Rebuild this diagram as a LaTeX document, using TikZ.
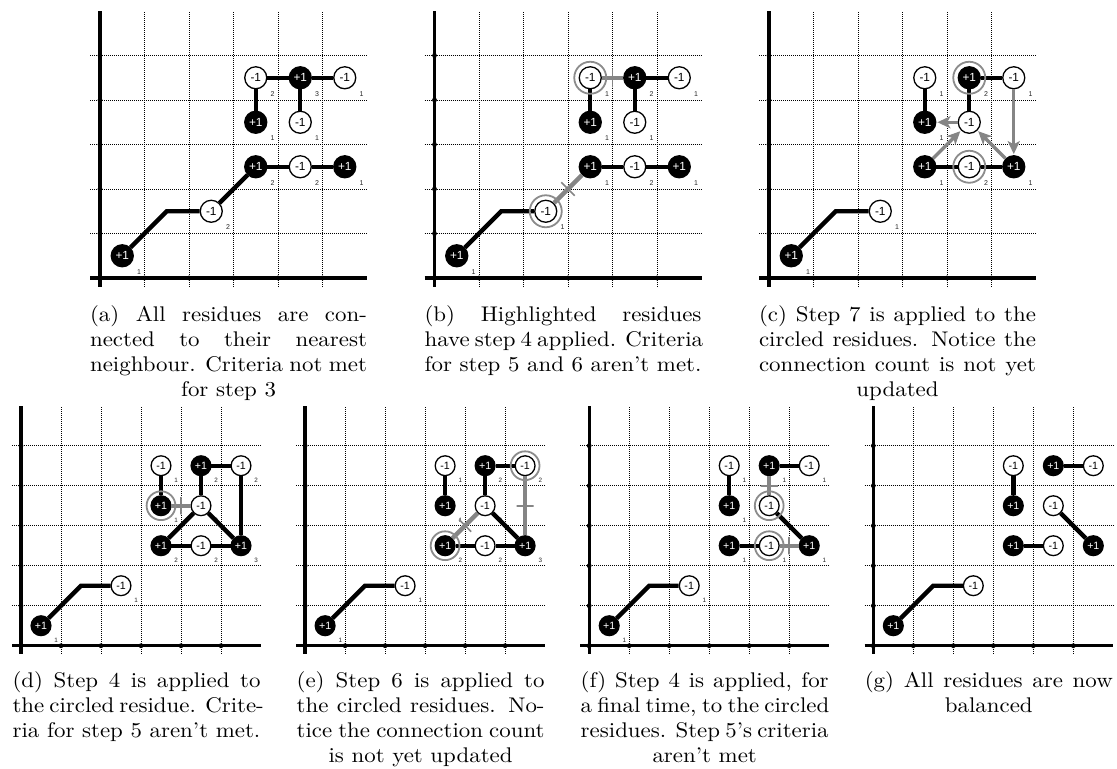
\documentclass[tikz,border=0pt]{standalone}
\usepackage{fontspec}
\usepackage{graphicx}
\newfontfamily\resfont{Liberation Sans}
\usetikzlibrary{arrows.meta}

\tikzset{
  grid line/.style={line width=0.5pt, dash pattern=on 0.5pt off 0.5pt},
  axis line/.style={line width=1.7pt},
  res/.style={circle, draw=black, line width=0.65pt, minimum size=11pt, inner sep=0pt,
              font=\resfont\fontsize{5.9}{6}\selectfont},
  plusres/.style={res, fill=black, text=white},
  minusres/.style={res, fill=white, text=black},
  bond/.style={line width=2.2pt, black},
  cut/.style={line width=2.2pt, black!48},
  cutmark/.style={draw=black!48, line width=0.8pt, minimum width=0pt, minimum height=9.5pt,
                  inner sep=0pt, outer sep=0pt},
  move/.style={line width=1.7pt, black!48, -{Stealth[length=6.5pt,width=6pt,inset=1.6pt]},
               shorten >=0.5pt},
  ring/.style={draw=black!45, line width=0.9pt, circle, minimum size=16pt, inner sep=0pt},
  count/.style={font=\resfont\fontsize{3.5}{4}\selectfont, inner sep=0pt, text=black!85},
  capline/.style={anchor=base, inner sep=0pt, font=\fontsize{10.6}{12.4}\selectfont},
  small panel/.style={x=20pt, y=20pt, every node/.append style={scale=0.9}},
  big panel/.style={x=22.25pt, y=22.25pt},
}

% grid, axes and axis dots of one panel (cell units)
\newcommand\Frame{%
  \foreach \k in {1,...,5} {
    \draw[grid line] (-0.22,\k) -- (6,\k);
    \draw[grid line] (\k,-0.2) -- (\k,6);
  }
  \draw[axis line] (-0.22,0) -- (6,0);
  \draw[axis line] (0,-0.2) -- (0,6);
  \foreach \k in {0,...,5} {
    \fill (0,\k) circle (1.2pt);
    \fill (\k,0) circle (1.2pt);
  }
}
% residue: style, name, position, charge, connection count
\newcommand\Res[5]{%
  \node[#1] (#2) at (#3) {#4};
  \node[count] (#2n) at ([shift={(0.38,-0.36)}]#2.center) {#5};
}
% justified caption line and centred last line
\newcommand\CapJ[4]{\node[capline] (#1) at (#2) {\scalebox{1.08}[1]{\makebox[#3][s]{#4}}};}
\newcommand\CapC[3]{\node[capline] (#1) at (#2) {\scalebox{1.08}[1]{#3}};}

\begin{document}
\begin{tikzpicture}
\fill[white] (0,0) rectangle (558.5pt,-384pt);
\path[use as bounding box] (0,0) rectangle (558.5pt,-384pt);

% ---------------- (a)
\begin{scope}[shift={(50pt,-139pt)}, big panel]
  \Frame
  \Res{plusres}{a1}{0.5,0.5}{+1}{1}
  \coordinate (a1b) at (1.5,1.5);
  \Res{minusres}{a2}{2.5,1.5}{-1}{2}
  \Res{plusres}{a3}{3.5,2.5}{+1}{2}
  \Res{minusres}{a4}{4.5,2.5}{-1}{2}
  \Res{plusres}{a5}{5.5,2.5}{+1}{1}
  \Res{minusres}{a6}{3.5,4.5}{-1}{2}
  \Res{plusres}{a7}{4.5,4.5}{+1}{3}
  \Res{minusres}{a8}{5.5,4.5}{-1}{1}
  \Res{plusres}{a9}{3.5,3.5}{+1}{1}
  \Res{minusres}{a10}{4.5,3.5}{-1}{1}
  \draw[bond] (a1) -- (a1b) -- (a2);
  \draw[bond] (a2) -- (a3);
  \draw[bond] (a3) -- (a4);
  \draw[bond] (a4) -- (a5);
  \draw[bond] (a6) -- (a7);
  \draw[bond] (a7) -- (a8);
  \draw[bond] (a6) -- (a9);
  \draw[bond] (a7) -- (a10);
\end{scope}

% ---------------- (b)
\begin{scope}[shift={(217.25pt,-139pt)}, big panel]
  \Frame
  \Res{plusres}{b1}{0.5,0.5}{+1}{1}
  \coordinate (b1b) at (1.5,1.5);
  \Res{minusres}{b2}{2.5,1.5}{-1}{1}
  \Res{plusres}{b3}{3.5,2.5}{+1}{1}
  \Res{minusres}{b4}{4.5,2.5}{-1}{2}
  \Res{plusres}{b5}{5.5,2.5}{+1}{1}
  \Res{minusres}{b6}{3.5,4.5}{-1}{1}
  \Res{plusres}{b7}{4.5,4.5}{+1}{2}
  \Res{minusres}{b8}{5.5,4.5}{-1}{1}
  \Res{plusres}{b9}{3.5,3.5}{+1}{1}
  \Res{minusres}{b10}{4.5,3.5}{-1}{1}
  \draw[bond] (b1) -- (b1b) -- (b2);
  \draw[bond] (b3) -- (b4);
  \draw[bond] (b4) -- (b5);
  \draw[bond] (b6) -- (b9);
  \draw[bond] (b7) -- (b8);
  \draw[bond] (b7) -- (b10);
  \draw[cut] (b2) -- (b3) node[midway, sloped, cutmark] (b23) {};
  \draw[cut] (b6) -- (b7) node[midway, sloped, cutmark] (b67) {};
  \node[ring] (b2r) at (b2) {};
  \node[ring] (b6r) at (b6) {};
\end{scope}

% ---------------- (c)
\begin{scope}[shift={(384.5pt,-139pt)}, big panel]
  \Frame
  \Res{plusres}{c1}{0.5,0.5}{+1}{1}
  \coordinate (c1b) at (1.5,1.5);
  \Res{minusres}{c2}{2.5,1.5}{-1}{1}
  \Res{minusres}{c3}{3.5,4.5}{-1}{1}
  \Res{plusres}{c4}{4.5,4.5}{+1}{2}
  \Res{minusres}{c5}{5.5,4.5}{-1}{1}
  \Res{plusres}{c6}{3.5,3.5}{+1}{1}
  \Res{minusres}{c7}{4.5,3.5}{-1}{1}
  \Res{plusres}{c8}{3.5,2.5}{+1}{1}
  \Res{minusres}{c9}{4.5,2.5}{-1}{2}
  \Res{plusres}{c10}{5.5,2.5}{+1}{1}
  \draw[bond] (c1) -- (c1b) -- (c2);
  \draw[bond] (c3) -- (c6);
  \draw[bond] (c4) -- (c5);
  \draw[bond] (c4) -- (c7);
  \draw[bond] (c8) -- (c9);
  \draw[bond] (c9) -- (c10);
  \draw[move] (c5) -- (c10);
  \draw[move] (c7) -- (c6);
  \draw[move] (c8) -- (c7);
  \draw[move] (c10) -- (c7);
  \node[ring] (c4r) at (c4) {};
  \node[ring] (c9r) at (c9) {};
\end{scope}

% ---------------- (d)
\begin{scope}[shift={(10.5pt,-322.85pt)}, small panel]
  \Frame
  \Res{plusres}{d1}{0.5,0.5}{+1}{1}
  \coordinate (d1b) at (1.5,1.5);
  \Res{minusres}{d2}{2.5,1.5}{-1}{1}
  \Res{minusres}{d3}{3.5,4.5}{-1}{1}
  \Res{plusres}{d4}{4.5,4.5}{+1}{2}
  \Res{minusres}{d5}{5.5,4.5}{-1}{2}
  \Res{plusres}{d6}{3.5,3.5}{+1}{1}
  \Res{minusres}{d7}{4.5,3.5}{-1}{3}
  \Res{plusres}{d8}{3.5,2.5}{+1}{2}
  \Res{minusres}{d9}{4.5,2.5}{-1}{2}
  \Res{plusres}{d10}{5.5,2.5}{+1}{3}
  \draw[bond] (d1) -- (d1b) -- (d2);
  \draw[bond] (d3) -- (d6);
  \draw[bond] (d4) -- (d5);
  \draw[bond] (d4) -- (d7);
  \draw[bond] (d5) -- (d10);
  \draw[bond] (d7) -- (d8);
  \draw[bond] (d7) -- (d10);
  \draw[bond] (d8) -- (d9);
  \draw[bond] (d9) -- (d10);
  \draw[cut] (d6) -- (d7) node[midway, sloped, cutmark] (d67) {};
  \node[ring] (d6r) at (d6) {};
\end{scope}

% ---------------- (e)
\begin{scope}[shift={(152.55pt,-322.85pt)}, small panel]
  \Frame
  \Res{plusres}{e1}{0.5,0.5}{+1}{1}
  \coordinate (e1b) at (1.5,1.5);
  \Res{minusres}{e2}{2.5,1.5}{-1}{1}
  \Res{minusres}{e3}{3.5,4.5}{-1}{1}
  \Res{plusres}{e4}{4.5,4.5}{+1}{2}
  \Res{minusres}{e5}{5.5,4.5}{-1}{2}
  \Res{plusres}{e6}{3.5,3.5}{+1}{1}
  \Res{minusres}{e7}{4.5,3.5}{-1}{3}
  \Res{plusres}{e8}{3.5,2.5}{+1}{2}
  \Res{minusres}{e9}{4.5,2.5}{-1}{2}
  \Res{plusres}{e10}{5.5,2.5}{+1}{3}
  \draw[bond] (e1) -- (e1b) -- (e2);
  \draw[bond] (e3) -- (e6);
  \draw[bond] (e4) -- (e5);
  \draw[bond] (e4) -- (e7);
  \draw[bond] (e7) -- (e10);
  \draw[bond] (e8) -- (e9);
  \draw[bond] (e9) -- (e10);
  \draw[cut] (e5) -- (e10) node[midway, sloped, cutmark] (e510) {};
  \draw[cut] (e7) -- (e8) node[midway, sloped, cutmark] (e78) {};
  \node[ring] (e5r) at (e5) {};
  \node[ring] (e8r) at (e8) {};
\end{scope}

% ---------------- (f)
\begin{scope}[shift={(294.6pt,-322.85pt)}, small panel]
  \Frame
  \Res{plusres}{f1}{0.5,0.5}{+1}{1}
  \coordinate (f1b) at (1.5,1.5);
  \Res{minusres}{f2}{2.5,1.5}{-1}{1}
  \Res{minusres}{f3}{3.5,4.5}{-1}{1}
  \Res{plusres}{f4}{4.5,4.5}{+1}{1}
  \Res{minusres}{f5}{5.5,4.5}{-1}{1}
  \Res{plusres}{f6}{3.5,3.5}{+1}{1}
  \Res{minusres}{f7}{4.5,3.5}{-1}{1}
  \Res{plusres}{f8}{3.5,2.5}{+1}{1}
  \Res{minusres}{f9}{4.5,2.5}{-1}{1}
  \Res{plusres}{f10}{5.5,2.5}{+1}{1}
  \draw[bond] (f1) -- (f1b) -- (f2);
  \draw[bond] (f3) -- (f6);
  \draw[bond] (f4) -- (f5);
  \draw[bond] (f7) -- (f10);
  \draw[bond] (f8) -- (f9);
  \draw[cut] (f4) -- (f7) node[midway, sloped, cutmark] (f47) {};
  \draw[cut] (f9) -- (f10) node[midway, sloped, cutmark] (f910) {};
  \node[ring] (f7r) at (f7) {};
  \node[ring] (f9r) at (f9) {};
\end{scope}

% ---------------- (g)
\begin{scope}[shift={(436.65pt,-322.85pt)}, small panel]
  \Frame
  \Res{plusres}{g1}{0.5,0.5}{+1}{}
  \coordinate (g1b) at (1.5,1.5);
  \Res{minusres}{g2}{2.5,1.5}{-1}{}
  \Res{minusres}{g3}{3.5,4.5}{-1}{}
  \Res{plusres}{g4}{4.5,4.5}{+1}{}
  \Res{minusres}{g5}{5.5,4.5}{-1}{}
  \Res{plusres}{g6}{3.5,3.5}{+1}{}
  \Res{minusres}{g7}{4.5,3.5}{-1}{}
  \Res{plusres}{g8}{3.5,2.5}{+1}{}
  \Res{minusres}{g9}{4.5,2.5}{-1}{}
  \Res{plusres}{g10}{5.5,2.5}{+1}{}
  \draw[bond] (g1) -- (g1b) -- (g2);
  \draw[bond] (g3) -- (g6);
  \draw[bond] (g4) -- (g5);
  \draw[bond] (g7) -- (g10);
  \draw[bond] (g8) -- (g9);
\end{scope}

% ---------------- captions, top row
\CapJ{ca1}{114.25pt,-160.8pt}{128.2pt}{(a) All residues are con-}
\CapJ{ca2}{114.25pt,-173.2pt}{128.2pt}{nected to their nearest}
\CapJ{ca3}{114.25pt,-185.6pt}{128.2pt}{neighbour. Criteria not met}
\CapC{ca4}{114.25pt,-198pt}{for step 3}

\CapJ{cb1}{281.5pt,-160.8pt}{128.2pt}{(b) Highlighted residues}
\CapJ{cb2}{281.5pt,-173.2pt}{128.2pt}{have step 4 applied. Criteria}
\CapC{cb3}{281.5pt,-185.6pt}{for step 5 and 6 aren't met.}

\CapJ{cc1}{448.75pt,-160.8pt}{128.2pt}{(c) Step 7 is applied to the}
\CapJ{cc2}{448.75pt,-173.2pt}{128.2pt}{circled residues. Notice the}
\CapJ{cc3}{448.75pt,-185.6pt}{128.2pt}{connection count is not yet}
\CapC{cc4}{448.75pt,-198pt}{updated}

% ---------------- captions, bottom row
\CapJ{cd1}{68.25pt,-343.8pt}{114.8pt}{(d) Step 4 is applied to}
\CapJ{cd2}{68.25pt,-356.2pt}{114.8pt}{the circled residue. Crite-}
\CapC{cd3}{68.25pt,-368.6pt}{ria for step 5 aren't met.}

\CapJ{ce1}{210.3pt,-343.8pt}{114.8pt}{(e) Step 6 is applied to}
\CapJ{ce2}{210.3pt,-356.2pt}{114.8pt}{the circled residues. No-}
\CapJ{ce3}{210.3pt,-368.6pt}{114.8pt}{tice the connection count}
\CapC{ce4}{210.3pt,-381pt}{is not yet updated}

\CapJ{cf1}{352.35pt,-343.8pt}{114.8pt}{(f) Step 4 is applied, for}
\CapJ{cf2}{352.35pt,-356.2pt}{114.8pt}{a final time, to the circled}
\CapJ{cf3}{352.35pt,-368.6pt}{114.8pt}{residues. Step 5's criteria}
\CapC{cf4}{352.35pt,-381pt}{aren't met}

\CapJ{cg1}{494.4pt,-343.8pt}{114.8pt}{(g) All residues are now}
\CapC{cg2}{494.4pt,-356.2pt}{balanced}
\end{tikzpicture}
\end{document}
